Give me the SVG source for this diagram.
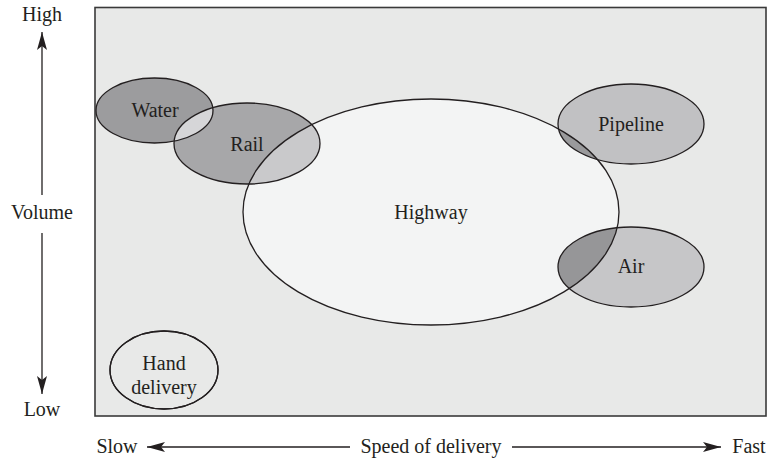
<svg xmlns="http://www.w3.org/2000/svg" width="769" height="460" viewBox="0 0 769 460">
<style>
text{font-family:"Liberation Serif","Times New Roman",serif;font-size:20px;fill:#231f20;text-anchor:middle}
.o{fill:none;stroke:#231f20;stroke-width:1.3}
.ax{stroke:#231f20;stroke-width:1.3;fill:none}
</style>
<defs>
<marker id="ah" viewBox="0 0 18 10" refX="18" refY="5" markerWidth="18" markerHeight="10" markerUnits="userSpaceOnUse" orient="auto">
<path d="M0,0 L18,5 L0,10 L4,5 Z" fill="#231f20"/>
</marker>
<clipPath id="cHw"><ellipse cx="431" cy="212" rx="188" ry="113"/></clipPath>
<clipPath id="cRail"><ellipse cx="247" cy="143.5" rx="73" ry="40.5"/></clipPath>
</defs>
<rect x="95" y="7.5" width="671" height="408.5" fill="#e8e9e8" stroke="#3a3a3a" stroke-width="1.6"/>
<g id="connectors">
<line class="ax" x1="42" y1="195" x2="42" y2="32" marker-end="url(#ah)"/>
<line class="ax" x1="42" y1="233" x2="42" y2="394" marker-end="url(#ah)"/>
<line class="ax" x1="350" y1="447" x2="147" y2="447" marker-end="url(#ah)"/>
<line class="ax" x1="512" y1="447" x2="721" y2="447" marker-end="url(#ah)"/>
</g>
<g id="highway">
<ellipse cx="431" cy="212" rx="188" ry="113" fill="#f3f4f4"/>
</g>
<g id="water">
<ellipse cx="154.5" cy="110.5" rx="58.5" ry="32.5" fill="#9c9c9e"/>
</g>
<g id="rail">
<ellipse cx="247" cy="143.5" rx="73" ry="40.5" fill="#a7a7a9"/>
<ellipse cx="154.5" cy="110.5" rx="58.5" ry="32.5" fill="#d6d6d8" clip-path="url(#cRail)"/>
<ellipse cx="247" cy="143.5" rx="73" ry="40.5" fill="#c9c9cb" clip-path="url(#cHw)"/>
</g>
<g id="pipeline">
<ellipse cx="631" cy="124" rx="73" ry="40" fill="#c1c1c3"/>
<ellipse cx="631" cy="124" rx="73" ry="40" fill="#9a9a9c" clip-path="url(#cHw)"/>
</g>
<g id="air">
<ellipse cx="631" cy="267" rx="73" ry="40" fill="#c6c6c8"/>
<ellipse cx="631" cy="267" rx="73" ry="40" fill="#969698" clip-path="url(#cHw)"/>
</g>
<g id="hand">
<ellipse cx="164" cy="370" rx="54" ry="39" fill="#d6d6d8" class="o"/>
</g>
<g id="outlines">
<ellipse class="o" cx="431" cy="212" rx="188" ry="113"/>
<ellipse class="o" cx="154.5" cy="110.5" rx="58.5" ry="32.5"/>
<ellipse class="o" cx="247" cy="143.5" rx="73" ry="40.5"/>
<ellipse class="o" cx="631" cy="124" rx="73" ry="40"/>
<ellipse class="o" cx="631" cy="267" rx="73" ry="40"/>
<ellipse class="o" cx="164" cy="370" rx="54" ry="39"/>
</g>
<g id="labels">
<text x="155" y="117">Water</text>
<text x="247" y="151">Rail</text>
<text x="431" y="219">Highway</text>
<text x="631" y="131">Pipeline</text>
<text x="631" y="273">Air</text>
<text x="164" y="370">Hand</text>
<text x="164" y="394">delivery</text>
<text x="42" y="21">High</text>
<text x="42" y="219">Volume</text>
<text x="42" y="416">Low</text>
<text x="117" y="453">Slow</text>
<text x="431" y="453">Speed of delivery</text>
<text x="749" y="453">Fast</text>
</g>
</svg>
